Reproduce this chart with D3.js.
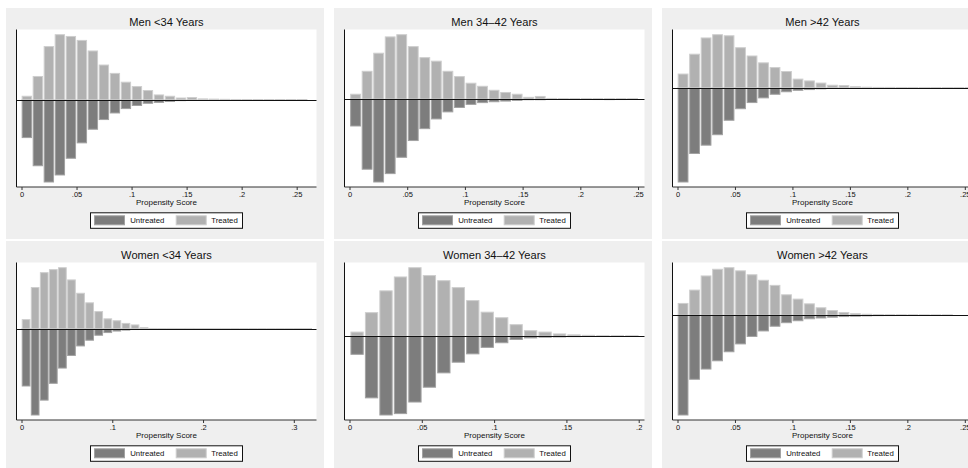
<!DOCTYPE html>
<html>
<head>
<meta charset="utf-8">
<script src="https://cdn.jsdelivr.net/npm/d3@7"></script>
<style>
  body { margin: 0; background: #fff; }
  svg { display: block; font-family: "Liberation Sans", Arial, Helvetica, sans-serif; }
</style>
</head>
<body>
<svg id="chart" width="968" height="468"></svg>
<script>
// Mirrored propensity-score histograms: treated above the zero line, untreated below.
// Each value is the share of the group falling in a 0.01-wide bin.

const titles = [
  "Men <34 Years", "Men 34\u201342 Years", "Men >42 Years",
  "Women <34 Years", "Women 34\u201342 Years", "Women >42 Years"
];

const binWidth = 0.01;
const binStarts = [0.0006, 0.001, 0.0006, 0.0008, 0.001, 0.0006];
const axisMax = [0.268, 0.2556, 0.2567, 0.325, 0.204, 0.2567];

const ticksA = [0, 0.05, 0.1, 0.15, 0.2, 0.25];
const ticksB = [0, 0.1, 0.2, 0.3];
const ticksC = [0, 0.05, 0.1, 0.15, 0.2];
const panelTicks = [ticksA, ticksA, ticksA, ticksB, ticksC, ticksA];

const menYoungTreated = [.008, .053, .121, .148, .144, .135, .111, .079, .060, .040, .030, .021, .011, .008, .004, .005, .002, .0015, .001, .0007, .0005, .0004, .0004, .0003, .0003, .0003];
const menYoungUntreated = [.086, .150, .187, .171, .133, .098, .067, .045, .030, .020, .013, .008, .006, .004, .002, .0015, .001, .0006, .0004, .0003, .0003, .0002, .0002, .0003, .001, .0002];

const menMidTreated = [.011, .063, .104, .141, .146, .119, .094, .086, .063, .051, .036, .029, .020, .015, .011, .004, .006, .0015, .001, .0008, .0008, .0008, .0006, .0006, .0005];
const menMidUntreated = [.061, .159, .188, .169, .132, .094, .067, .045, .029, .019, .012, .008, .006, .0045, .003, .0015, .0015, .0008, .0005, .0005, .0005, .001, .0012, .001, .0005];

const menOldTreated = [.038, .093, .138, .147, .144, .111, .088, .069, .056, .045, .024, .019, .013, .007, .006, .003, .0015, .001, .001, .0008, .0008, .0008, .0006, .0006, .0005, .0005];
const menOldUntreated = [.261, .182, .159, .130, .090, .058, .041, .028, .018, .011, .007, .005, .003, .002, .001, .0008, .0006, .0005, .0005, .0005, .0012, .0005, .0012, .0005, .0004, .0004];

const womenYoungTreated = [.024, .108, .147, .155, .160, .128, .093, .068, .045, .026, .021, .014, .010, .003, .0008, .0006, .0008, .0006, .0008, .0006, .0005, .0008, .0006, .0005, .0006, .0005, .0004, .0005, .0004, .0004, .0003, .0004];
const womenYoungUntreated = [.150, .226, .187, .143, .103, .070, .045, .030, .017, .010, .006, .0035, .002, .0008, .0006, .0005, .0006, .0008, .001, .0005, .0006, .0008, .001, .0005, .0005, .0006, .0004, .001, .0004, .0004, .0008, .001];

const womenMidTreated = [.009, .051, .098, .128, .148, .131, .120, .105, .077, .052, .040, .025, .012, .009, .005, .003, .002, .001, .001, .0008];
const womenMidUntreated = [.039, .133, .170, .167, .142, .110, .079, .056, .038, .024, .014, .007, .0036, .002, .0015, .0008, .0005, .0005, .0004, .0004];

const womenOldTreated = [.030, .064, .100, .117, .121, .113, .103, .089, .076, .052, .041, .029, .019, .012, .007, .004, .0025, .0017, .001, .0008, .0008, .0006, .0006, .0005];
const womenOldUntreated = [.254, .163, .137, .116, .093, .073, .054, .040, .028, .019, .014, .009, .007, .005, .0034, .0025, .0017, .001, .0008, .0006, .0006, .0005, .0005, .0005];

const treatedSeries = [menYoungTreated, menMidTreated, menOldTreated, womenYoungTreated, womenMidTreated, womenOldTreated];
const untreatedSeries = [menYoungUntreated, menMidUntreated, menOldUntreated, womenYoungUntreated, womenMidUntreated, womenOldUntreated];

const legendLabels = ["Untreated", "Treated"];

// Styling
const colors = {
  pageBg: "#ffffff",
  panelBg: "#efefef",
  plotBg: "#ffffff",
  untreatedFill: "#7d7d7d",
  untreatedStroke: "#a2a2a2",
  treatedFill: "#b1b1b1",
  treatedStroke: "#cecece",
  ink: "#111111"
};
const barSpan = 0.0085;

const svg = d3.select("#chart");
const fmtTick = v => v === 0 ? "0" : d3.format("")(v).replace(/^0\./, ".");

titles.forEach((title, i) => {
  const col = i % 3, row = Math.floor(i / 3);
  const px = 6 + 328 * col;
  const py = 8 + 233 * row;
  const g = svg.append("g");

  g.append("rect")
    .attr("x", px).attr("y", py)
    .attr("width", 318).attr("height", 231)
    .attr("fill", colors.panelBg);

  const left = px + 10.5, right = px + 310.5;
  const top = py + 21.5, bottom = py + 179;

  g.append("rect")
    .attr("x", left).attr("y", top)
    .attr("width", right - left).attr("height", bottom - top)
    .attr("fill", colors.plotBg);

  const treated = treatedSeries[i];
  const untreated = untreatedSeries[i];
  const start = binStarts[i];

  const x = d3.scaleLinear().domain([0, axisMax[i]]).range([left + 5, right]);
  const y = d3.scaleLinear()
    .domain([-d3.max(untreated), d3.max(treated)])
    .range([bottom - 5, top + 5.2]);

  const y0 = y(0);

  // untreated bars (below zero)
  g.append("g").selectAll("rect")
    .data(untreated)
    .join("rect")
    .attr("x", (d, k) => x(start + k * binWidth))
    .attr("width", (d, k) => x(start + k * binWidth + barSpan) - x(start + k * binWidth))
    .attr("y", y0)
    .attr("height", d => y(-d) - y0)
    .attr("fill", colors.untreatedFill)
    .attr("stroke", colors.untreatedStroke)
    .attr("stroke-width", 1);

  // treated bars (above zero)
  g.append("g").selectAll("rect")
    .data(treated)
    .join("rect")
    .attr("x", (d, k) => x(start + k * binWidth))
    .attr("width", (d, k) => x(start + k * binWidth + barSpan) - x(start + k * binWidth))
    .attr("y", d => y(d))
    .attr("height", d => y0 - y(d))
    .attr("fill", colors.treatedFill)
    .attr("stroke", colors.treatedStroke)
    .attr("stroke-width", 1);

  // zero line
  const zy = Math.round(y0) + 0.5;
  g.append("line")
    .attr("x1", left).attr("x2", right)
    .attr("y1", zy).attr("y2", zy)
    .attr("stroke", colors.ink).attr("stroke-width", 1);

  // axis lines
  g.append("line")
    .attr("x1", left).attr("x2", left)
    .attr("y1", top).attr("y2", bottom)
    .attr("stroke", colors.ink).attr("stroke-width", 1);
  g.append("line")
    .attr("x1", left).attr("x2", right)
    .attr("y1", bottom).attr("y2", bottom)
    .attr("stroke", "#333").attr("stroke-width", 1);

  const xAxis = d3.axisBottom(x)
    .tickValues(panelTicks[i])
    .tickFormat(fmtTick)
    .tickSize(3)
    .tickPadding(1.5);
  const ax = g.append("g")
    .attr("transform", `translate(0,${bottom})`)
    .call(xAxis);
  ax.select(".domain").remove();
  ax.selectAll(".tick line").attr("stroke", "#333");
  ax.selectAll(".tick text")
    .attr("fill", colors.ink)
    .style("font-family", "\"Liberation Sans\", Arial, sans-serif")
    .style("font-size", "7.5px");

  const cx = (left + right) / 2;

  g.append("text")
    .attr("x", cx).attr("y", py + 17.7)
    .attr("text-anchor", "middle")
    .attr("fill", colors.ink)
    .style("font-size", "11.1px")
    .text(title);

  g.append("text")
    .attr("x", cx).attr("y", bottom + 17.8)
    .attr("text-anchor", "middle")
    .attr("fill", colors.ink)
    .style("font-size", "8px")
    .text("Propensity Score");

  // legend
  const lw = 152, lh = 15.5;
  const lx = cx - lw / 2, ly = py + 204.8;
  const lg = g.append("g").attr("transform", `translate(${lx},${ly})`);
  lg.append("rect")
    .attr("width", lw).attr("height", lh)
    .attr("fill", "#fff").attr("stroke", colors.ink).attr("stroke-width", 1);
  const keys = [
    { label: legendLabels[0], fill: colors.untreatedFill, stroke: colors.untreatedStroke, sx: 4, tx: 39.7 },
    { label: legendLabels[1], fill: colors.treatedFill, stroke: colors.treatedStroke, sx: 85.7, tx: 120.7 }
  ];
  keys.forEach(k => {
    lg.append("rect")
      .attr("x", k.sx).attr("y", 3).attr("width", 30).attr("height", 9)
      .attr("fill", k.fill).attr("stroke", k.stroke).attr("stroke-width", 1);
    lg.append("text")
      .attr("x", k.tx).attr("y", 10.6)
      .attr("fill", colors.ink)
      .style("font-size", "7.8px")
      .text(k.label);
  });
});
</script>
</body>
</html>
